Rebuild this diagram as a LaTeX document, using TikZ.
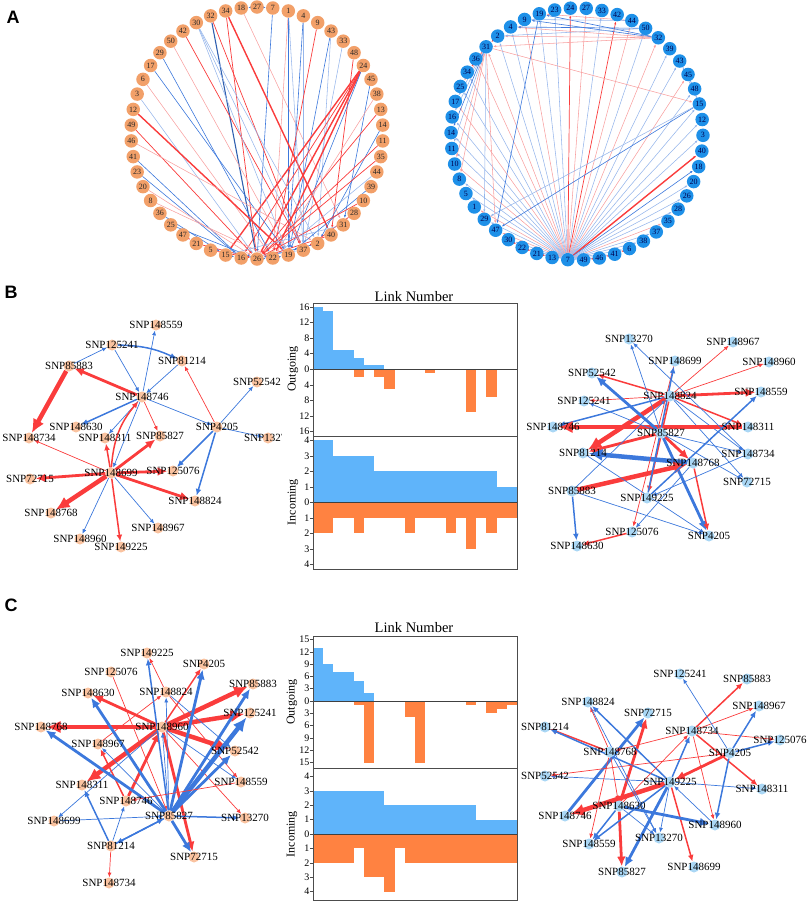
\documentclass[tikz,border=0pt]{standalone}
\usepackage{fontspec}
\setmainfont{Liberation Serif}
\newfontfamily\panelfont{Liberation Sans}
\usetikzlibrary{arrows.meta}
\pgfdeclarelayer{bg}
\pgfsetlayers{bg,main}
\definecolor{aor}{RGB}{242,160,105}
\definecolor{abl}{RGB}{30,144,232}
\definecolor{dor}{RGB}{250,195,160}
\definecolor{dbl}{RGB}{170,215,245}
\definecolor{er}{RGB}{250,60,60}
\definecolor{erl}{RGB}{248,160,160}
\definecolor{eb}{RGB}{60,120,220}
\definecolor{ebl}{RGB}{150,182,235}
\definecolor{cbl}{RGB}{95,180,250}
\definecolor{cor}{RGB}{255,130,65}
\begin{document}
\begin{tikzpicture}[x=1pt,y=-1pt,
  anodeO/.style={circle,fill=aor,inner sep=0pt,minimum size=13.5pt,font=\fontsize{8}{8}\selectfont,text=black!85},
  anodeB/.style={circle,fill=abl,inner sep=0pt,minimum size=13.5pt,font=\fontsize{8}{8}\selectfont,text=blue!30!black},
  tipA/.style={-{Latex[length=3pt,width=2.2pt]}},
  aB/.style={tipA,draw=eb,line width=0.6pt},
  aBl/.style={tipA,draw=ebl,line width=0.55pt},
  aBk/.style={tipA,draw=eb!80!black,line width=1.1pt},
  aR/.style={tipA,draw=er,line width=0.7pt},
  aRl/.style={tipA,draw=erl,line width=0.55pt},
  aRk/.style={tipA,draw=er,line width=1.4pt},
  ntip/.style={-{Latex[length=3pt 2.4,width=2.5pt 2.2]}},
  bT/.style={ntip,draw=eb,line width=0.7pt},
  bM/.style={ntip,draw=eb,line width=1.5pt},
  bK/.style={ntip,draw=eb,line width=2.8pt},
  bV/.style={ntip,draw=eb,line width=4.5pt},
  rT/.style={ntip,draw=er,line width=0.7pt},
  rM/.style={ntip,draw=er,line width=1.5pt},
  rK/.style={ntip,draw=er,line width=2.8pt},
  rV/.style={ntip,draw=er,line width=4.5pt},
  dotO/.style={circle,fill=dor,inner sep=0pt,minimum size=11pt},
  dotB/.style={circle,fill=dbl,inner sep=0pt,minimum size=11pt},
  lbl/.style={font=\fontsize{11}{11}\selectfont,inner sep=0pt},
  tick/.style={font=\fontsize{10}{10}\selectfont,anchor=east,inner sep=0.5pt},
  ttl/.style={font=\fontsize{14.5}{14.5}\selectfont},
  axl/.style={font=\fontsize{12}{12}\selectfont,rotate=90},
  plet/.style={font=\fontsize{18}{18}\panelfont\bfseries}
]
\useasboundingbox (0,0) rectangle (809,903);

% ---------------- panel letters
\node[plet] (pA) at (13,17) {A};
\node[plet] (pB) at (11,292) {B};
\node[plet] (pC) at (11,605) {C};

% ---------------- panel A circles
\foreach \n [count=\i from 0] in {27,7,1,4,9,43,33,48,24,45,38,13,14,11,35,44,39,10,28,31,40,2,37,19,22,26,16,15,5,21,47,25,36,8,20,23,41,46,49,12,3,6,17,29,50,42,30,32,34,18}
  \node[anodeO] (L\n) at ({257+126*cos(90-7.2*\i)},{133-126*sin(90-7.2*\i)}) {\n};
\foreach \n [count=\i from 0] in {19,23,24,27,33,42,44,50,32,39,43,45,48,15,12,3,40,18,20,26,28,35,37,38,6,41,46,49,7,13,21,22,30,47,29,1,5,8,10,11,14,16,17,25,34,36,31,2,4,9}
  \node[anodeB] (R\n) at ({577+126*cos(107.4-7.2*\i)},{134-126*sin(107.4-7.2*\i)}) {\n};

\begin{pgfonlayer}{bg}
\foreach \a/\b/\s in {18/31/aRl,27/18/aB,27/7/aB,7/26/aB,1/22/aRl,1/19/aB,4/19/aB,4/37/aBl,9/22/aR,43/19/aB,43/2/aBl,33/37/aBl,48/40/aR,24/26/aRk,24/22/aRk,24/16/aR,24/19/aB,24/15/aRk,32/26/aBk,32/37/aR,34/26/aR,34/40/aRk,30/2/aBl,30/37/aBl,42/37/aR,50/19/aRl,29/22/aB,17/19/aB,6/22/aRl,3/26/aBl,12/19/aRk,49/26/aR,46/2/aRl,41/16/aB,23/16/aB,20/26/aRl,8/22/aRl,36/15/aB,25/26/aB,47/21/aR,21/26/aR,5/26/aR,15/16/aB,26/22/aB,22/19/aB,45/31/aB,38/22/aRl,13/26/aR,14/2/aB,11/26/aR,35/26/aR,44/22/aBl,39/19/aB,10/26/aR,28/37/aR,31/15/aBl,40/26/aR,2/26/aB,37/16/aBl,30/19/aBl,1/37/aBl}
  \draw[\s] (L\a) -- (L\b);
\foreach \b/\s in {19/aBl,23/aBl,24/aR,27/aRl,33/aBl,42/aR,44/aRl,50/aBl,32/aRl,39/aBl,43/aBl,45/aRl,48/aBl,15/aBl,12/aBl,3/aBl,40/aRk,18/aB,20/aBl,26/aBl,28/aBl,35/aRl,37/aBl,38/aBl,6/aBl,41/aBl,46/aBl,21/aBl,22/aBl,30/aBl,47/aRl,29/aBl,1/aRl,5/aBl,8/aBl,10/aRl,11/aBl,14/aBl,16/aBl,17/aRl,25/aBl,34/aBl,36/aRl,31/aRl,2/aBl,4/aBl,9/aRl}
  \draw[\s] (R7) -- (R\b);
\foreach \a/\b/\s in {32/19/aB,32/9/aB,32/4/aRl,32/2/aRl,44/9/aBl,50/4/aB,44/19/aRl,50/2/aBl,32/31/aRl,31/34/aR,31/25/aRl,31/17/aBl,31/16/aBl,31/14/aB,31/11/aBl,31/10/aRl,31/8/aRl,31/15/aRl,31/29/aBl,31/47/aRl,15/47/aB,15/29/aBl,15/43/aBl,15/45/aBl,43/48/aBl,19/47/aB,2/31/aR,6/41/aR,41/46/aR,46/49/aR,21/13/aR,22/21/aR,30/22/aR}
  \draw[\s] (R\a) -- (R\b);
\end{pgfonlayer}

% ---------------- panel B left network
\foreach \n/\x/\y in {148559/156/325,125241/112/345,81214/182/361,85883/69/366,148746/142/397,52542/257/382,148630/76/427,148734/29/438,148311/105/438,85827/160/436,4205/217/427,13270/268/438,125076/173/471,148699/111/473,72715/30/479,148824/195/501,148768/51/513,148967/158/528,148960/80/539,149225/121/547}
  \node[dotO] (BL\n) at (\x,\y) {};
\begin{pgfonlayer}{bg}
\foreach \a/\b/\s in {85883/125241/bT,125241/148746/bT,81214/148746/bT,148746/148559/bT,148746/85883/rK,85883/148734/rV,148746/148630/bM,148746/148311/bT,148746/85827/rT,148746/4205/bT,148746/148699/bT,4205/81214/rT,4205/52542/bT,4205/13270/bT,4205/125076/bM,4205/148824/bM,148699/148734/rT,148699/148311/rM,148699/85827/rK,148699/125076/rK,148699/72715/rK,148699/148824/rK,148699/148768/rV,148699/148967/bT,148699/148960/bT,148699/149225/rM}
  \draw[\s] (BL\a) -- (BL\b);
\draw[bM] (BL125241) to[bend left=12] (BL81214);
\draw[rM] (BL148699) to[bend left=18] (BL148746);
\end{pgfonlayer}
\foreach \n in {148559,125241,81214,85883,148746,52542,148630,148734,148311,85827,4205,13270,125076,148699,72715,148824,148768,148967,148960,149225}
  \node[lbl] at (BL\n) {SNP\n};

% ---------------- panel B right network
\foreach \n/\x/\y in {13270/629/339,148967/733/342,148699/675/361,148960/769/362,52542/592/373,148824/670/396,148559/761/392,125241/584/401,148746/553/427,85827/661/433,148311/748/427,81214/583/453,148734/748/454,148768/693/463,72715/747/482,85883/572/491,149225/647/498,125076/632/532,4205/709/536,148630/577/546}
  \node[dotB] (BR\n) at (\x,\y) {};
\begin{pgfonlayer}{bg}
\foreach \a/\b/\s in {148824/52542/rM,148824/148967/rT,148824/148960/rT,148824/148559/rK,148824/125241/rT,148824/148746/bM,148824/81214/rV,148824/148311/rM,148824/148734/bT,148824/72715/bT,148824/149225/rM,148311/148746/rV,85827/81214/rK,85827/148768/rK,85827/52542/bK,85827/4205/bK,148768/81214/bV,85883/148768/rV,85883/148630/bM,85883/148824/bT,85883/4205/bT,125076/148630/rM,148768/4205/rM,148768/125076/bT,148734/149225/bT,149225/148559/bM,148699/125076/rT,149225/148699/bM,81214/4205/bT,85827/125241/bT,85827/148734/bT,85827/72715/bT,148734/13270/bT,85827/13270/bT}
  \draw[\s] (BR\a) -- (BR\b);
\end{pgfonlayer}
\foreach \n in {13270,148967,148699,148960,52542,148824,148559,125241,148746,85827,148311,81214,148734,148768,72715,85883,149225,125076,4205,148630}
  \node[lbl] at (BR\n) {SNP\n};

% ---------------- panel C left network
\foreach \n/\x/\y in {149225/147/653,125076/111/672,4205/204/664,85883/253/684,148630/88/693,148824/166/692,125241/250/713,148768/41/727,148960/162/727,148967/98/744,52542/235/751,148311/82/785,148559/241/782,148746/126/801,85827/169/816,13270/245/818,148699/54/821,81214/111/846,72715/194/857,148734/109/883}
  \node[dotO] (CL\n) at (\x,\y) {};
\begin{pgfonlayer}{bg}
\foreach \a/\b/\s in {148960/148768/rV,148960/148630/rK,148960/85883/rV,148960/125241/rV,148960/52542/rV,148960/148311/rV,148960/4205/rM,148960/148559/bT,148960/13270/rT,148960/72715/rK,148960/148699/bT,148824/149225/rT,148824/52542/bT,148824/148559/rT,125076/85827/rT,148746/148960/rK,148746/148967/rM,148967/148824/rT,85827/148768/bK,85827/148630/bK,85827/149225/bM,85827/4205/bK,85827/85883/bK,85827/125241/bV,85827/52542/bK,85827/148824/bT,85827/13270/bM,148699/85827/bT,85827/72715/bK,85827/81214/bM,85827/148967/bT,81214/148311/bM,81214/148746/bT,81214/85827/bM,81214/148734/rT,148559/148746/rT,85827/148960/bT}
  \draw[\s] (CL\a) -- (CL\b);
\end{pgfonlayer}
\foreach \n in {149225,125076,4205,85883,148630,148824,125241,148768,148960,148967,52542,148311,148559,148746,85827,13270,148699,81214,72715,148734}
  \node[lbl] at (CL\n) {SNP\n};

% ---------------- panel C right network
\foreach \n/\x/\y in {125241/680/674,85883/747/679,148824/588/702,148967/759/706,72715/648/713,81214/545/727,148734/692/731,125076/780/740,148768/610/752,4205/730/753,52542/545/776,149225/670/782,148311/762/789,148630/619/806,148746/565/816,148960/715/825,148559/589/844,13270/659/838,85827/622/872,148699/694/867}
  \node[dotB] (CR\n) at (\x,\y) {};
\begin{pgfonlayer}{bg}
\foreach \a/\b/\s in {149225/148746/rV,4205/149225/rK,148630/72715/rK,148746/72715/bK,149225/85827/bK,148630/85827/rK,149225/148824/bM,148768/81214/rM,149225/81214/bM,149225/52542/bT,149225/148311/bT,149225/148734/bM,149225/13270/bT,149225/148559/bM,149225/148699/rM,148960/149225/bT,148630/148960/bK,148734/85883/rM,148734/148967/rT,148734/125076/rT,148734/148311/rM,148734/148960/rT,148630/148734/rT,4205/52542/rT,148734/148768/rT,4205/125241/bT,4205/148967/bM,4205/125076/bM,4205/148960/bM,148768/148824/rT,148768/148559/rT,148768/13270/bT,148768/148630/rT,148630/148559/bM,148630/13270/bT,148824/13270/bT}
  \draw[\s] (CR\a) -- (CR\b);
\end{pgfonlayer}
\foreach \n in {125241,85883,148824,148967,72715,81214,148734,125076,148768,4205,52542,149225,148311,148630,148746,148960,148559,13270,85827,148699}
  \node[lbl] at (CR\n) {SNP\n};

% ---------------- chart B
\fill[white] (282,300) rectangle (313,570);
\fill[white] (313,303) rectangle (517,569);
\foreach \v [count=\i from 0] in {16,15,5,5,3,1,1,0,0,0,0,0,0,0,0,0,0,0,0,0}
  \fill[cbl] ({313+10.2*\i},369.3) rectangle ({313+10.2*(\i+1)},{369.3-3.9*\v});
\foreach \v [count=\i from 0] in {0,0,0,0,2,0,2,5,0,0,0,1,0,0,0,11,0,7,0,0}
  \fill[cor] ({313+10.2*\i},369.3) rectangle ({313+10.2*(\i+1)},{369.3+3.9*\v});
\foreach \v [count=\i from 0] in {4,4,3,3,3,3,2,2,2,2,2,2,2,2,2,2,2,2,1,1}
  \fill[cbl] ({313+10.2*\i},502.3) rectangle ({313+10.2*(\i+1)},{502.3-15.5*\v});
\foreach \v [count=\i from 0] in {2,2,1,1,2,1,1,1,1,2,1,1,1,2,1,3,1,2,1,1}
  \fill[cor] ({313+10.2*\i},502.3) rectangle ({313+10.2*(\i+1)},{502.3+15.5*\v});
\draw[black!75,line width=1pt] (313,369.3) -- (517,369.3);
\draw[black!75,line width=1pt] (313,502.3) -- (517,502.3);
\draw[black!70,line width=0.6pt] (313,303) rectangle (517,569);
\draw[black!70,line width=0.6pt] (313,436) -- (517,436);
\foreach \v/\l in {16/16,12/12,8/8,4/4,0/0,-4/4,-8/8,-12/12,-16/16}{
  \draw[black!70,line width=0.5pt] (313,{369.3-3.9*\v}) -- ++(-3,0);
  \node[tick] at (310,{369.3-3.9*\v}) {\l};}
\foreach \v/\l in {4/4,3/3,2/2,1/1,0/0,-1/1,-2/2,-3/3,-4/4}{
  \draw[black!70,line width=0.5pt] (313,{502.3-15.5*\v}) -- ++(-3,0);
  \node[tick] at (310,{502.3-15.5*\v}) {\l};}
\node[ttl] (tB) at (414,297) {Link Number};
\node[axl] (oB) at (293,369) {Outgoing};
\node[axl] (iB) at (293,502) {Incoming};

% ---------------- chart C
\fill[white] (313,636) rectangle (517,900);
\foreach \v [count=\i from 0] in {13,9,7,7,5,2,0,0,0,0,0,0,0,0,0,0,0,0,0,0}
  \fill[cbl] ({313+10.2*\i},701) rectangle ({313+10.2*(\i+1)},{701-4.1*\v});
\foreach \v [count=\i from 0] in {0,0,0,0,1,15,0,0,0,4,15,0,0,0,0,1,0,3,2,1}
  \fill[cor] ({313+10.2*\i},701) rectangle ({313+10.2*(\i+1)},{701+4.1*\v});
\foreach \v [count=\i from 0] in {3,3,3,3,3,3,3,2,2,2,2,2,2,2,2,2,1,1,1,1}
  \fill[cbl] ({313+10.2*\i},834) rectangle ({313+10.2*(\i+1)},{834-14.4*\v});
\foreach \v [count=\i from 0] in {2,2,2,2,1,3,3,4,1,2,2,2,2,2,2,2,2,2,2,2}
  \fill[cor] ({313+10.2*\i},834) rectangle ({313+10.2*(\i+1)},{834+14.4*\v});
\draw[black!75,line width=1pt] (313,701) -- (517,701);
\draw[black!75,line width=1pt] (313,834) -- (517,834);
\draw[black!70,line width=0.6pt] (313,636) rectangle (517,900);
\draw[black!70,line width=0.6pt] (313,768) -- (517,768);
\foreach \v/\l in {15/15,12/12,9/9,6/6,3/3,0/0,-3/3,-6/6,-9/9,-12/12,-15/15}{
  \draw[black!70,line width=0.5pt] (313,{701-4.1*\v}) -- ++(-3,0);
  \node[tick] at (310,{701-4.1*\v}) {\l};}
\foreach \v/\l in {4/4,3/3,2/2,1/1,0/0,-1/1,-2/2,-3/3,-4/4}{
  \draw[black!70,line width=0.5pt] (313,{834-14.4*\v}) -- ++(-3,0);
  \node[tick] at (310,{834-14.4*\v}) {\l};}
\node[ttl] (tC) at (414,628) {Link Number};
\node[axl] (oC) at (292,702) {Outgoing};
\node[axl] (iC) at (292,834) {Incoming};
\end{tikzpicture}
\end{document}
